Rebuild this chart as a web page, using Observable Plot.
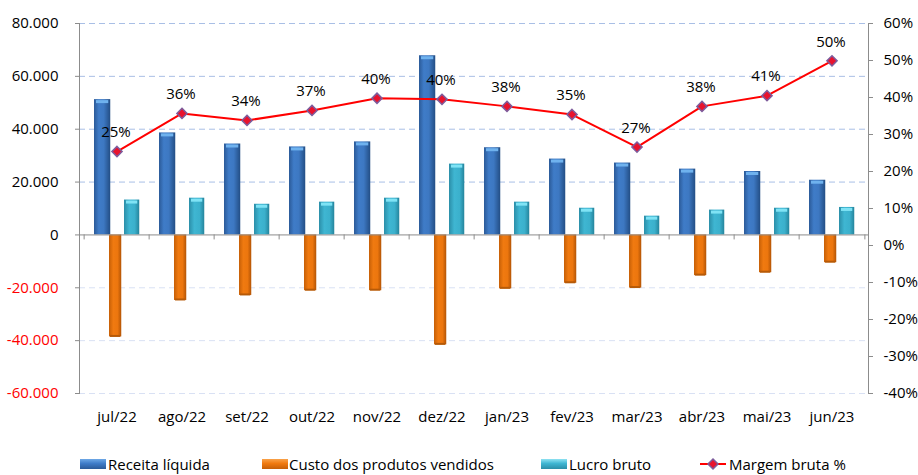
<!DOCTYPE html>
<html>
<head>
<meta charset="utf-8">
<script src="https://cdn.jsdelivr.net/npm/d3@7"></script>
<script src="https://cdn.jsdelivr.net/npm/@observablehq/plot@0.6"></script>
<style>
  html, body { margin: 0; padding: 0; background: #fff; }
  body { width: 918px; height: 475px; overflow: hidden; font-family: "Open Sans", sans-serif; }
  #legend { position: relative; height: 23px; font-size: 15px; color: #000; }
  #legend .sw { position: absolute; top: 7px; width: 26px; height: 10px; }
  #legend .lb { position: absolute; top: 3px; line-height: 18px; white-space: nowrap; }
</style>
</head>
<body>
<div id="chart"></div>
<div id="legend"></div>
<script>
const months = ["jul/22","ago/22","set/22","out/22","nov/22","dez/22","jan/23","fev/23","mar/23","abr/23","mai/23","jun/23"];
const receita = [51200, 38600, 34400, 33300, 35200, 67800, 33000, 28700, 27200, 24900, 24000, 20700];
const custo   = [-38600, -24800, -22900, -21100, -21100, -41600, -20400, -18300, -20100, -15400, -14300, -10500];
const lucro   = [13200, 13900, 11600, 12400, 13900, 26800, 12400, 10100, 7100, 9400, 10100, 10400];
const margem  = [25.4, 35.7, 33.8, 36.5, 39.8, 39.5, 37.6, 35.4, 26.6, 37.6, 40.5, 49.9];
const leftTicks = [-60000, -40000, -20000, 0, 20000, 40000, 60000, 80000];
const rightTicks = [-40, -30, -20, -10, 0, 10, 20, 30, 40, 50, 60];
const seriesNames = ["Receita líquida", "Custo dos produtos vendidos", "Lucro bruto", "Margem bruta %"];

// right axis (%) mapped onto the left axis domain: 60% <-> 80.000, -40% <-> -60.000
const pctToLeft = p => (p + 40) / 100 * 140000 - 60000;

const data = months.map((m, i) => ({month: m, receita: receita[i], custo: custo[i], lucro: lucro[i], margem: margem[i]}));

const loc = d3.formatLocale({decimal: ",", thousands: ".", grouping: [3], currency: ["", ""], minus: "-"});
const fmtNum = loc.format(",");

const W = 918, H = 452, mL = 79, mR = 50, mT = 23, mB = 59;
const bw = (W - mL - mR) / months.length;

const diamond = {
  draw(ctx, size) {
    const r = Math.sqrt(size) * 0.6;
    ctx.moveTo(0, -r); ctx.lineTo(r, 0); ctx.lineTo(0, r); ctx.lineTo(-r, 0); ctx.closePath();
  }
};

const gridColor = "#a9bfe6";
const gridColorNeg = "#d9e1f4";

const chart = Plot.plot({
  width: W, height: H,
  marginLeft: mL, marginRight: mR, marginTop: mT, marginBottom: mB,
  style: {fontFamily: "'Open Sans', sans-serif", fontSize: "15px", color: "#000", background: "#fff", overflow: "visible"},
  x: {type: "band", domain: months, padding: 0, label: null},
  y: {domain: [-60000, 80000], label: null},
  marks: [
    Plot.ruleY(leftTicks.filter(d => d > 0), {stroke: gridColor, strokeDasharray: "6,4", strokeWidth: 1}),
    Plot.ruleY(leftTicks.filter(d => d < 0), {stroke: gridColorNeg, strokeDasharray: "6,4", strokeWidth: 1}),
    Plot.frame({anchor: "left", stroke: "#8c8c8c"}),
    Plot.frame({anchor: "right", stroke: "#8c8c8c"}),
    Plot.barY(data, {x: "month", y: "receita", fill: "url(#gBlue)", insetLeft: 10, insetRight: bw - 27}),
    Plot.barY(data, {x: "month", y: "custo", fill: "url(#gOrange)", insetLeft: 25, insetRight: bw - 38}),
    Plot.barY(data, {x: "month", y: "lucro", fill: "url(#gCyan)", insetLeft: 40, insetRight: bw - 56}),
    Plot.tickY(data, {x: "month", y: "receita", stroke: "#6fb2ee", strokeWidth: 3, dy: 2, insetLeft: 12, insetRight: bw - 25}),
    Plot.tickY(data, {x: "month", y: "lucro", stroke: "#7fe3f5", strokeWidth: 3, dy: 2, insetLeft: 42, insetRight: bw - 54}),
    Plot.tickY(data, {x: "month", y: "custo", stroke: "#b65a08", strokeWidth: 2, dy: -1, insetLeft: 26, insetRight: bw - 37}),
    Plot.ruleY([0], {stroke: "#8c8c8c"}),
    Plot.ruleX(months, {x: d => d, y1: 0, y2: 0, insetBottom: -5, dx: -bw / 2, stroke: "#8c8c8c"}),
    Plot.ruleX(months.slice(-1), {x: d => d, y1: 0, y2: 0, insetBottom: -5, dx: bw / 2, stroke: "#8c8c8c"}),
    Plot.axisY(leftTicks.filter(d => d >= 0), {anchor: "left", tickSize: 4, tickPadding: 17, tickFormat: fmtNum, stroke: "#8c8c8c", fill: "#000", label: null}),
    Plot.axisY(leftTicks.filter(d => d < 0), {anchor: "left", tickSize: 4, tickPadding: 17, tickFormat: fmtNum, stroke: "#8c8c8c", fill: "#ff0000", label: null}),
    Plot.axisY(rightTicks.map(pctToLeft), {anchor: "right", tickSize: 4, tickPadding: 11, tickFormat: d => Math.round((d + 60000) / 1400 - 40) + "%", stroke: "#8c8c8c", fill: "#000", label: null}),
    Plot.axisX({tickSize: 0, tickPadding: 18, label: null, fill: "#000"}),
    Plot.line(data, {x: "month", y: d => pctToLeft(d.margem), stroke: "#ff0000", strokeWidth: 2}),
    Plot.dot(data, {x: "month", y: d => pctToLeft(d.margem), symbol: diamond, r: 4.8, fill: "#e8132e", stroke: "#7d5c9c", strokeWidth: 1.5}),
    Plot.text(data, {x: "month", y: d => pctToLeft(d.margem), text: d => Math.round(d.margem) + "%", dy: -19, dx: -1, fill: "#000", fontSize: 15})
  ]
});

// gradient defs for the bar fills
const defs = d3.select(chart).insert("defs", ":first-child");
function grad(id, stops) {
  const g = defs.append("linearGradient").attr("id", id).attr("x1", "0").attr("x2", "1").attr("y1", "0").attr("y2", "0");
  stops.forEach(([o, c]) => g.append("stop").attr("offset", o).attr("stop-color", c));
}
grad("gBlue", [["0", "#2b5a98"], ["0.3", "#3f7cc8"], ["0.6", "#3d78c2"], ["1", "#234e85"]]);
grad("gOrange", [["0", "#c65f07"], ["0.35", "#f07a10"], ["0.7", "#ec760e"], ["1", "#b35405"]]);
grad("gCyan", [["0", "#2b8ea8"], ["0.35", "#3fb6d2"], ["0.7", "#3bb0cc"], ["1", "#25849c"]]);

document.getElementById("chart").appendChild(chart);

// legend
const legendItems = [
  {name: seriesNames[0], kind: "bar", sw: 80, tx: 108, bg: "linear-gradient(#6ea8e6, #3f7cc8 45%, #2b5a98)"},
  {name: seriesNames[1], kind: "bar", sw: 262, tx: 289, bg: "linear-gradient(#f9a24a, #f07a10 45%, #c65f07)"},
  {name: seriesNames[2], kind: "bar", sw: 541, tx: 569, bg: "linear-gradient(#8fe2f2, #3fb6d2 45%, #2b8ea8)"},
  {name: seriesNames[3], kind: "line", sw: 700, tx: 729}
];
const lg = d3.select("#legend");
legendItems.forEach(it => {
  if (it.kind === "bar") {
    lg.append("div").attr("class", "sw").style("left", it.sw + "px").style("background", it.bg);
  } else {
    const s = lg.append("svg").attr("width", 26).attr("height", 14).style("position", "absolute").style("left", it.sw + "px").style("top", "5px");
    s.append("line").attr("x1", 0).attr("x2", 26).attr("y1", 7).attr("y2", 7).attr("stroke", "#ff0000").attr("stroke-width", 2);
    s.append("path").attr("d", "M13,2L18,7L13,12L8,7Z").attr("fill", "#e8132e").attr("stroke", "#7d5c9c").attr("stroke-width", 1.5);
  }
  lg.append("div").attr("class", "lb").style("left", it.tx + "px").text(it.name);
});
</script>
</body>
</html>
